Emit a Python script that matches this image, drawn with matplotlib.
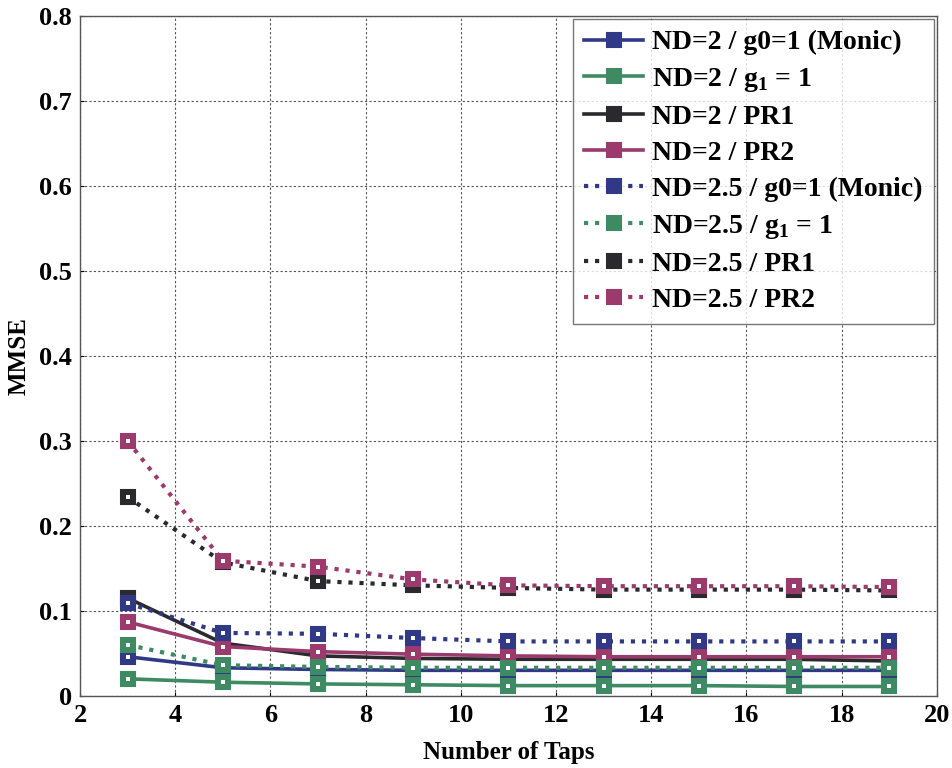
import numpy as np
import matplotlib.pyplot as plt

# ----------------------------
# Data
# ----------------------------
taps = [3, 5, 7, 9, 11, 13, 15, 17, 19]

nd2_monic = [0.046, 0.033, 0.031, 0.030, 0.030, 0.030, 0.030, 0.030, 0.030]
nd2_g1 = [0.020, 0.016, 0.014, 0.013, 0.012, 0.012, 0.012, 0.011, 0.011]
nd2_pr1 = [0.115, 0.062, 0.047, 0.044, 0.043, 0.043, 0.043, 0.043, 0.041]
nd2_pr2 = [0.087, 0.058, 0.052, 0.049, 0.047, 0.046, 0.046, 0.046, 0.046]
nd25_monic = [0.109, 0.074, 0.073, 0.068, 0.064, 0.064, 0.064, 0.064, 0.064]
nd25_g1 = [0.060, 0.036, 0.034, 0.033, 0.033, 0.033, 0.033, 0.033, 0.033]
nd25_pr1 = [0.234, 0.157, 0.135, 0.130, 0.127, 0.125, 0.125, 0.125, 0.124]
nd25_pr2 = [0.300, 0.159, 0.152, 0.137, 0.130, 0.129, 0.129, 0.129, 0.128]

labels = [
    "ND=2 / g0=1 (Monic)",
    r"ND=2 / g$_{\mathbf{1}}$ = 1",
    "ND=2 / PR1",
    "ND=2 / PR2",
    "ND=2.5 / g0=1 (Monic)",
    r"ND=2.5 / g$_{\mathbf{1}}$ = 1",
    "ND=2.5 / PR1",
    "ND=2.5 / PR2",
]
series = [nd2_monic, nd2_g1, nd2_pr1, nd2_pr2,
          nd25_monic, nd25_g1, nd25_pr1, nd25_pr2]

xticks = [2, 4, 6, 8, 10, 12, 14, 16, 18, 20]
yticks = [0, 0.1, 0.2, 0.3, 0.4, 0.5, 0.6, 0.7, 0.8]
ytick_labels = ["0", "0.1", "0.2", "0.3", "0.4", "0.5", "0.6", "0.7", "0.8"]

# Colores
c_blue = "#2f3985"
c_green = "#3d8a63"
c_black = "#2a2a2e"
c_pink = "#9a3b6b"
colors = [c_blue, c_green, c_black, c_pink] * 2
styles = ["-"] * 4 + [":"] * 4

plt.rcParams['font.family'] = ['Liberation Serif', 'DejaVu Serif']
plt.rcParams['font.weight'] = 'bold'
plt.rcParams['mathtext.fontset'] = 'custom'
plt.rcParams['mathtext.rm'] = 'Liberation Serif:bold'
plt.rcParams['mathtext.bf'] = 'Liberation Serif:bold'

fig = plt.figure(figsize=(9.53, 7.68), dpi=100)
ax = fig.add_axes([0.084, 0.094, 0.899, 0.885])

for y, lab, col, ls in zip(series, labels, colors, styles):
    ax.plot(taps, y, linestyle=ls, color=col, lw=3.0 if ls == ":" else 2.6,
            marker='s', ms=10, mfc=col, mec=col, mew=1.5, label=lab)
    # centro blanco de los marcadores
    ax.plot(taps, y, linestyle='none', marker='s', ms=2.5, mfc='white',
            mec='white', mew=0)

ax.set_xlim(2, 20)
ax.set_ylim(0, 0.8)
ax.set_xticks(xticks)
ax.set_yticks(yticks)
ax.set_yticklabels(ytick_labels)
ax.tick_params(labelsize=19, direction='in', length=3, pad=6)
for lbl in ax.get_xticklabels() + ax.get_yticklabels():
    lbl.set_fontweight('bold')
ax.grid(True, linestyle=(0, (2, 2)), linewidth=0.8, color='#555555')
for sp in ax.spines.values():
    sp.set_color('#555555')
    sp.set_linewidth(1.0)

ax.set_xlabel("Number of Taps", fontsize=18, fontweight='bold', labelpad=10)
ax.set_ylabel("MMSE", fontsize=18, fontweight='bold', labelpad=6)

leg = ax.legend(loc='upper right', fontsize=20, frameon=True, fancybox=False,
                edgecolor='#555555', borderaxespad=0.1, handlelength=2.1,
                labelspacing=0.38, handletextpad=0.35, borderpad=0.4)
leg.get_frame().set_linewidth(1.0)
for t in leg.get_texts():
    t.set_fontweight('bold')

plt.savefig("out.png", dpi=100)
plt.close()
